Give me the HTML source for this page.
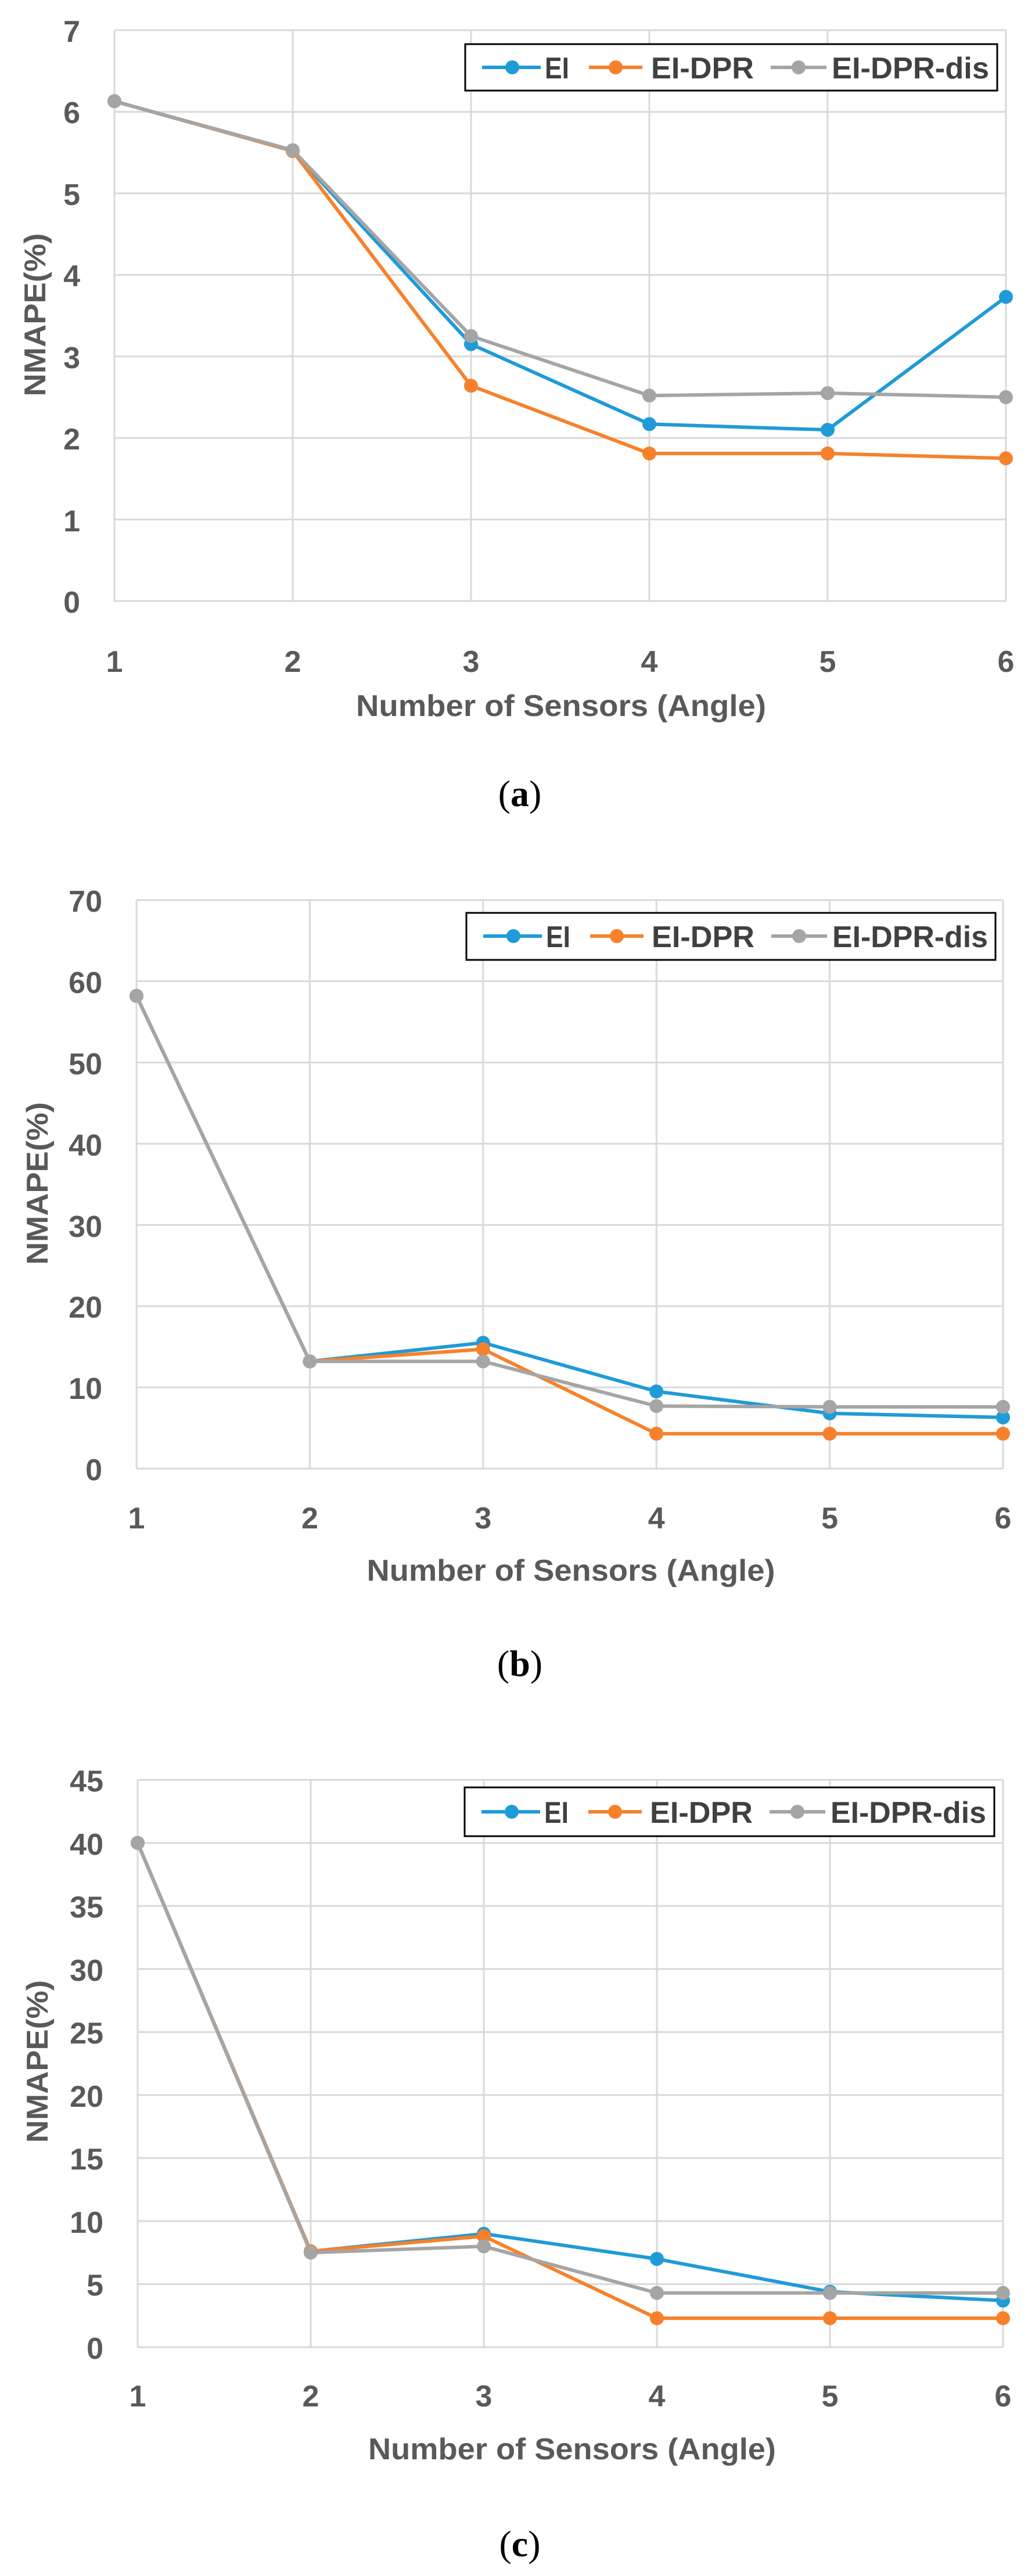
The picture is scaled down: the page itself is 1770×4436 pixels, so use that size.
<!DOCTYPE html>
<html><head><meta charset="utf-8"><style>
html,body{margin:0;padding:0;background:#fff;width:1770px;height:4436px;overflow:hidden}
svg{display:block}
.t{font-family:"Liberation Sans Narrow","Liberation Sans",sans-serif;font-weight:bold;fill:#595959;font-size:52px}
.lg{font-family:"Liberation Sans Narrow","Liberation Sans",sans-serif;font-weight:bold;fill:#404040;font-size:52px}
.cap{font-family:"Liberation Serif",serif;font-size:64px;fill:#000}
.g{stroke:#d9d9d9;stroke-width:3;fill:none}
.b{stroke:#1f9bd7;stroke-width:6;fill:none}
.o{stroke:#f7812b;stroke-width:6;fill:none}
.s{stroke:#a5a5a5;stroke-width:6;fill:none}
circle{r:12px}
</style></head><body>
<svg width="1770" height="4436" viewBox="0 0 1770 4436" xmlns="http://www.w3.org/2000/svg">
<!-- Chart a -->
<g>
<path class="g" d="M197 52H1732M197 192.6H1732M197 333H1732M197 473.4H1732M197 613.8H1732M197 754.2H1732M197 894.6H1732M197 1035H1732M197 52V1035M504 52V1035M811 52V1035M1118 52V1035M1425 52V1035M1732 52V1035"/>
<g class="t" text-anchor="end">
<text x="138" y="72">7</text><text x="138" y="212">6</text><text x="138" y="353">5</text><text x="138" y="493">4</text><text x="138" y="634">3</text><text x="138" y="774">2</text><text x="138" y="915">1</text><text x="138" y="1055">0</text>
</g>
<g class="t" text-anchor="middle">
<text x="197" y="1157">1</text><text x="504" y="1157">2</text><text x="811" y="1157">3</text><text x="1118" y="1157">4</text><text x="1425" y="1157">5</text><text x="1732" y="1157">6</text>
<text x="966" y="1233" textLength="706" lengthAdjust="spacingAndGlyphs">Number of Sensors (Angle)</text>
<text transform="translate(78,542) rotate(-90)" textLength="281" lengthAdjust="spacingAndGlyphs">NMAPE(%)</text>
</g>
<polyline class="b" points="197,174.3 504,260 811,592.7 1118,730.3 1425,740.2 1732,511.3"/>
<g fill="#1f9bd7"><circle cx="197" cy="174.3" r="12"/><circle cx="504" cy="260" r="12"/><circle cx="811" cy="592.7" r="12"/><circle cx="1118" cy="730.3" r="12"/><circle cx="1425" cy="740.2" r="12"/><circle cx="1732" cy="511.3" r="12"/></g>
<polyline class="o" points="197,174.3 504,260 811,664.3 1118,780.9 1425,780.9 1732,789.3"/>
<g fill="#f7812b"><circle cx="197" cy="174.3" r="12"/><circle cx="504" cy="260" r="12"/><circle cx="811" cy="664.3" r="12"/><circle cx="1118" cy="780.9" r="12"/><circle cx="1425" cy="780.9" r="12"/><circle cx="1732" cy="789.3" r="12"/></g>
<polyline class="s" points="197,174.3 504,258.6 811,578.7 1118,681.2 1425,677 1732,684"/>
<g fill="#a5a5a5"><circle cx="197" cy="174.3" r="12"/><circle cx="504" cy="258.6" r="12"/><circle cx="811" cy="578.7" r="12"/><circle cx="1118" cy="681.2" r="12"/><circle cx="1425" cy="677" r="12"/><circle cx="1732" cy="684" r="12"/></g>
<rect x="801" y="76" width="916" height="80" fill="#fff" stroke="#000" stroke-width="3"/>
<line x1="830" y1="116" x2="931" y2="116" class="b"/><circle cx="882" cy="116" r="12" fill="#1f9bd7"/>
<text class="lg" x="938" y="135" textLength="42" lengthAdjust="spacingAndGlyphs">EI</text>
<line x1="1014" y1="116" x2="1106" y2="116" class="o"/><circle cx="1060" cy="116" r="12" fill="#f7812b"/>
<text class="lg" x="1121" y="135" textLength="177" lengthAdjust="spacingAndGlyphs">EI-DPR</text>
<line x1="1327" y1="116" x2="1423" y2="116" class="s"/><circle cx="1375" cy="116" r="12" fill="#a5a5a5"/>
<text class="lg" x="1432" y="135" textLength="271" lengthAdjust="spacingAndGlyphs">EI-DPR-dis</text>
<text class="cap" x="895" y="1388" text-anchor="middle">(<tspan font-weight="bold">a</tspan>)</text>
</g>
<!-- Chart b -->
<g>
<path class="g" d="M235 1550H1727M235 1689.8H1727M235 1829.7H1727M235 1969.6H1727M235 2109.4H1727M235 2249.3H1727M235 2389.1H1727M235 2529H1727M235 1550V2529M533.4 1550V2529M831.8 1550V2529M1130.2 1550V2529M1428.6 1550V2529M1727 1550V2529"/>
<g class="t" text-anchor="end">
<text x="176" y="1570">70</text><text x="176" y="1710">60</text><text x="176" y="1850">50</text><text x="176" y="1990">40</text><text x="176" y="2130">30</text><text x="176" y="2269">20</text><text x="176" y="2409">10</text><text x="176" y="2549">0</text>
</g>
<g class="t" text-anchor="middle">
<text x="235" y="2632">1</text><text x="533.4" y="2632">2</text><text x="831.8" y="2632">3</text><text x="1130.2" y="2632">4</text><text x="1428.6" y="2632">5</text><text x="1727" y="2632">6</text>
<text x="983" y="2722" textLength="703" lengthAdjust="spacingAndGlyphs">Number of Sensors (Angle)</text>
<text transform="translate(82,2038) rotate(-90)" textLength="280" lengthAdjust="spacingAndGlyphs">NMAPE(%)</text>
</g>
<polyline class="b" points="235,1715 533.4,2344.4 831.8,2312.2 1130.2,2396.1 1428.6,2433.9 1727,2440.9"/>
<g fill="#1f9bd7"><circle cx="235" cy="1715" r="12"/><circle cx="533.4" cy="2344.4" r="12"/><circle cx="831.8" cy="2312.2" r="12"/><circle cx="1130.2" cy="2396.1" r="12"/><circle cx="1428.6" cy="2433.9" r="12"/><circle cx="1727" cy="2440.9" r="12"/></g>
<polyline class="o" points="235,1715 533.4,2344.4 831.8,2323.4 1130.2,2468.9 1428.6,2468.9 1727,2468.9"/>
<g fill="#f7812b"><circle cx="235" cy="1715" r="12"/><circle cx="533.4" cy="2344.4" r="12"/><circle cx="831.8" cy="2323.4" r="12"/><circle cx="1130.2" cy="2468.9" r="12"/><circle cx="1428.6" cy="2468.9" r="12"/><circle cx="1727" cy="2468.9" r="12"/></g>
<polyline class="s" points="235,1715 533.4,2344.4 831.8,2344.4 1130.2,2421.3 1428.6,2422.7 1727,2422.7"/>
<g fill="#a5a5a5"><circle cx="235" cy="1715" r="12"/><circle cx="533.4" cy="2344.4" r="12"/><circle cx="831.8" cy="2344.4" r="12"/><circle cx="1130.2" cy="2421.3" r="12"/><circle cx="1428.6" cy="2422.7" r="12"/><circle cx="1727" cy="2422.7" r="12"/></g>
<rect x="803" y="1572" width="911" height="81" fill="#fff" stroke="#000" stroke-width="3"/>
<line x1="832" y1="1612" x2="933" y2="1612" class="b"/><circle cx="884" cy="1612" r="12" fill="#1f9bd7"/>
<text class="lg" x="940" y="1631" textLength="42" lengthAdjust="spacingAndGlyphs">EI</text>
<line x1="1016" y1="1612" x2="1108" y2="1612" class="o"/><circle cx="1062" cy="1612" r="12" fill="#f7812b"/>
<text class="lg" x="1122" y="1631" textLength="177" lengthAdjust="spacingAndGlyphs">EI-DPR</text>
<line x1="1328" y1="1612" x2="1424" y2="1612" class="s"/><circle cx="1376" cy="1612" r="12" fill="#a5a5a5"/>
<text class="lg" x="1433" y="1631" textLength="268" lengthAdjust="spacingAndGlyphs">EI-DPR-dis</text>
<text class="cap" x="895" y="2886" text-anchor="middle">(<tspan font-weight="bold">b</tspan>)</text>
</g>
<!-- Chart c -->
<g>
<path class="g" d="M237 3065H1727M237 3173.6H1727M237 3282.1H1727M237 3390.7H1727M237 3499.2H1727M237 3607.8H1727M237 3716.3H1727M237 3824.9H1727M237 3933.4H1727M237 4042H1727M237 3065V4042M535 3065V4042M833 3065V4042M1131 3065V4042M1429 3065V4042M1727 3065V4042"/>
<g class="t" text-anchor="end">
<text x="178" y="3085">45</text><text x="178" y="3194">40</text><text x="178" y="3302">35</text><text x="178" y="3411">30</text><text x="178" y="3519">25</text><text x="178" y="3628">20</text><text x="178" y="3736">15</text><text x="178" y="3845">10</text><text x="178" y="3953">5</text><text x="178" y="4062">0</text>
</g>
<g class="t" text-anchor="middle">
<text x="237" y="4144">1</text><text x="535" y="4144">2</text><text x="833" y="4144">3</text><text x="1131" y="4144">4</text><text x="1429" y="4144">5</text><text x="1727" y="4144">6</text>
<text x="985" y="4235" textLength="702" lengthAdjust="spacingAndGlyphs">Number of Sensors (Angle)</text>
<text transform="translate(82,3550) rotate(-90)" textLength="280" lengthAdjust="spacingAndGlyphs">NMAPE(%)</text>
</g>
<polyline class="b" points="237,3173.6 535,3877 833,3846.6 1131,3890 1429,3946.5 1727,3961.7"/>
<g fill="#1f9bd7"><circle cx="237" cy="3173.6" r="12"/><circle cx="535" cy="3877" r="12"/><circle cx="833" cy="3846.6" r="12"/><circle cx="1131" cy="3890" r="12"/><circle cx="1429" cy="3946.5" r="12"/><circle cx="1727" cy="3961.7" r="12"/></g>
<polyline class="o" points="237,3173.6 535,3877 833,3850.9 1131,3992.1 1429,3992.1 1727,3992.1"/>
<g fill="#f7812b"><circle cx="237" cy="3173.6" r="12"/><circle cx="535" cy="3877" r="12"/><circle cx="833" cy="3850.9" r="12"/><circle cx="1131" cy="3992.1" r="12"/><circle cx="1429" cy="3992.1" r="12"/><circle cx="1727" cy="3992.1" r="12"/></g>
<polyline class="s" points="237,3173.6 535,3879.2 833,3868.3 1131,3948.6 1429,3948.6 1727,3948.6"/>
<g fill="#a5a5a5"><circle cx="237" cy="3173.6" r="12"/><circle cx="535" cy="3879.2" r="12"/><circle cx="833" cy="3868.3" r="12"/><circle cx="1131" cy="3948.6" r="12"/><circle cx="1429" cy="3948.6" r="12"/><circle cx="1727" cy="3948.6" r="12"/></g>
<rect x="800" y="3078" width="912" height="84" fill="#fff" stroke="#000" stroke-width="3"/>
<line x1="829" y1="3120" x2="930" y2="3120" class="b"/><circle cx="881" cy="3120" r="12" fill="#1f9bd7"/>
<text class="lg" x="937" y="3139" textLength="42" lengthAdjust="spacingAndGlyphs">EI</text>
<line x1="1013" y1="3120" x2="1105" y2="3120" class="o"/><circle cx="1059" cy="3120" r="12" fill="#f7812b"/>
<text class="lg" x="1119" y="3139" textLength="177" lengthAdjust="spacingAndGlyphs">EI-DPR</text>
<line x1="1325" y1="3120" x2="1421" y2="3120" class="s"/><circle cx="1373" cy="3120" r="12" fill="#a5a5a5"/>
<text class="lg" x="1430" y="3139" textLength="268" lengthAdjust="spacingAndGlyphs">EI-DPR-dis</text>
<text class="cap" x="895" y="4402" text-anchor="middle">(<tspan font-weight="bold">c</tspan>)</text>
</g>
</svg>
</body></html>
